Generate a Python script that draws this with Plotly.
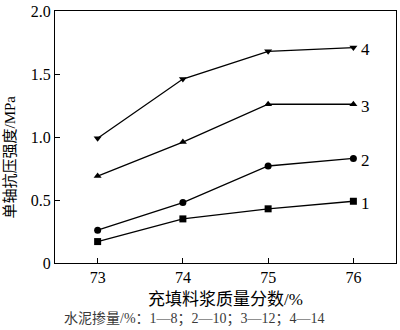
import plotly.graph_objects as go

# Slurry mass fraction (%) and uniaxial compressive strength (MPa)
mass_fraction = [73, 74, 75, 76]
strength_1 = [0.17, 0.35, 0.43, 0.49]
strength_2 = [0.26, 0.48, 0.77, 0.83]
strength_3 = [0.69, 0.96, 1.26, 1.26]
strength_4 = [0.99, 1.46, 1.68, 1.71]
series_labels = ["1", "2", "3", "4"]
series_symbols = ["square", "circle", "triangle-up", "triangle-down"]
y_ticks = [0, 0.5, 1.0, 1.5, 2.0]
y_tick_text = ["0", "0.5", "1.0", "1.5", "2.0"]

FONT = "Liberation Serif, Noto Sans CJK SC, serif"

fig = go.Figure()
for label, sym, vals in zip(series_labels, series_symbols,
                            [strength_1, strength_2, strength_3, strength_4]):
    fig.add_trace(go.Scatter(
        x=mass_fraction, y=vals, mode="lines+markers",
        line=dict(color="black", width=1.3),
        marker=dict(symbol=sym, size=7, color="black"),
        showlegend=False, cliponaxis=False,
    ))
    fig.add_annotation(
        x=mass_fraction[-1], y=vals[-1], text=label, showarrow=False,
        xanchor="left", xshift=6, yshift=-2,
        font=dict(family=FONT, size=17, color="black"),
    )

# Axis titles and the cement-content note placed as annotations
fig.add_annotation(
    xref="paper", yref="paper", x=0.5, y=-0.145, yanchor="middle",
    text="充填料浆质量分数/%", showarrow=False,
    font=dict(family=FONT, size=17, color="black"),
)
fig.add_annotation(
    xref="paper", yref="paper", x=0.41, y=-0.222, yanchor="middle",
    text="水泥掺量/%：1—8；2—10；3—12；4—14", showarrow=False,
    font=dict(family=FONT, size=14, color="#3a3a3a"),
)
fig.add_annotation(
    xref="paper", yref="paper", x=-0.131, y=0.42, xanchor="center",
    yanchor="middle", textangle=-90,
    text="单轴抗压强度/MPa", showarrow=False,
    font=dict(family=FONT, size=15, color="black"),
)

fig.update_layout(
    width=400, height=330,
    margin=dict(l=55, r=3, t=7, b=67),
    paper_bgcolor="white", plot_bgcolor="white",
    font=dict(family=FONT, size=16, color="black"),
)
fig.update_xaxes(
    range=[72.5, 76.5], tickvals=mass_fraction,
    ticks="inside", ticklen=5, tickcolor="black",
    showline=True, linecolor="black", linewidth=1, mirror=True,
    showgrid=False, zeroline=False,
    tickfont=dict(family=FONT, size=16),
)
fig.update_yaxes(
    range=[0, 2.0], tickvals=y_ticks, ticktext=y_tick_text,
    ticks="inside", ticklen=5, tickcolor="black",
    showline=True, linecolor="black", linewidth=1, mirror=True,
    showgrid=False, zeroline=False, ticklabeloverflow="allow",
    tickfont=dict(family=FONT, size=16),
)

fig.write_html("out.html")
